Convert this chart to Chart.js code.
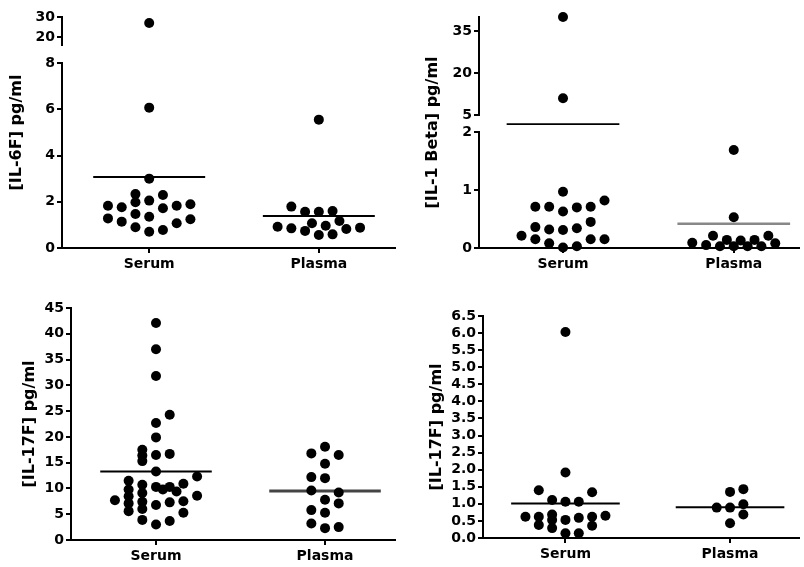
<!DOCTYPE html>
<html>
<head>
<meta charset="utf-8">
<script src="https://cdn.jsdelivr.net/npm/chart.js@4.4.1/dist/chart.umd.min.js"></script>
<style>
  body { margin: 0; background: #fff; }
  #wrap { position: relative; width: 804px; height: 567px; }
  canvas { position: absolute; }
</style>
</head>
<body>
<div id="wrap">
  <canvas id="il6" width="400" height="283" style="left:0;top:0"></canvas>
  <canvas id="il1b" width="404" height="283" style="left:400px;top:0"></canvas>
  <canvas id="il17a" width="400" height="284" style="left:0;top:283px"></canvas>
  <canvas id="il17b" width="404" height="284" style="left:400px;top:283px"></canvas>
</div>
<script>
const groups = ["Serum", "Plasma"];

// [IL-6F] pg/ml  (cols = column slot of each dot in the scatter)
const il6Serum = [27, 6.07, 3.0, 2.33, 1.98, 2.29, 2.05, 1.83, 1.76, 1.72, 1.83, 1.89, 1.28, 1.14, 1.47, 1.35, 1.24, 1.07, 0.9, 0.7, 0.78];
const il6SerumCols = [0, 0, 0, -1, -1, 1, 0, -3, -2, 1, 2, 3, -3, -2, -1, 0, 3, 2, -1, 0, 1];
const il6Plasma = [5.55, 1.79, 1.57, 1.57, 1.6, 1.17, 1.07, 0.96, 0.92, 0.85, 0.74, 0.56, 0.59, 0.82, 0.88];
const il6PlasmaCols = [0, -2, -1, 0, 1, 1.5, -0.5, 0.5, -3, -2, -1, 0, 1, 2, 3];
const il6Means = [3.07, 1.38];
const il6TicksLow = [0, 2, 4, 6, 8];
const il6TicksHigh = [20, 30];

// [IL-1 Beta] pg/ml
const il1bSerum = [40, 11, 0.97, 0.82, 0.71, 0.71, 0.7, 0.71, 0.63, 0.45, 0.36, 0.32, 0.31, 0.34, 0.21, 0.15, 0.15, 0.15, 0.08, 0.01, 0.03];
const il1bSerumCols = [0, 0, 0, 3, -2, -1, 1, 2, 0, 2, -2, -1, 0, 1, -3, -2, 3, 2, -1, 0, 1];
const il1bPlasma = [1.69, 0.53, 0.09, 0.05, 0.21, 0.03, 0.14, 0.03, 0.13, 0.03, 0.14, 0.03, 0.21, 0.08];
const il1bPlasmaCols = [0, 0, -3, -2, -1.5, -1, -0.5, 0, 0.5, 1, 1.5, 2, 2.5, 3];
const il1bMeans = [3.4, 0.42];
const il1bTicksLow = [0, 1, 2];
const il1bTicksHigh = [5, 20, 35];

// [IL-17F] pg/ml (bottom left)
const il17aSerum = [42.1, 37.0, 31.8, 22.7, 19.9, 16.5, 13.3, 10.3, 6.8, 3.0,
  24.3, 16.7, 10.3, 7.3, 3.7,
  17.5, 16.4, 15.3, 10.7, 9.1, 7.4, 6.0, 3.9,
  11.5, 9.8, 8.5, 7.1, 5.6,
  7.7, 9.8, 9.4, 10.9, 7.5, 5.3, 12.3, 8.6];
const il17aSerumCols = [0, 0, 0, 0, 0, 0, 0, 0, 0, 0,
  1, 1, 1, 1, 1,
  -1, -1, -1, -1, -1, -1, -1, -1,
  -2, -2, -2, -2, -2,
  -3, 0.5, 1.5, 2, 2, 2, 3, 3];
const il17aPlasma = [18.1, 16.8, 16.5, 14.8, 12.2, 12.0, 9.6, 9.2, 7.8, 7.1, 5.8, 5.3, 3.2, 2.3, 2.5];
const il17aPlasmaCols = [0, -1, 1, 0, -1, 0, -1, 1, 0, 1, -1, 0, -1, 0, 1];
const il17aMeans = [13.3, 9.5];
const il17aTicks = [0, 5, 10, 15, 20, 25, 30, 35, 40, 45];

// [IL-17F] pg/ml (bottom right)
const il17bSerum = [6.03, 1.92, 1.4, 1.34, 1.11, 1.06, 1.06, 0.62, 0.62, 0.38, 0.69, 0.53, 0.29, 0.53, 0.14, 0.59, 0.14, 0.62, 0.36, 0.65];
const il17bSerumCols = [0, 0, -2, 2, -1, 0, 1, -3, -2, -2, -1, -1, -1, 0, 0, 1, 1, 2, 2, 3];
const il17bPlasma = [1.35, 1.43, 0.89, 0.89, 0.99, 0.69, 0.43];
const il17bPlasmaCols = [0, 1, -1, 0, 1, 1, 0];
const il17bMeans = [1.01, 0.9];
const il17bTicks = [0, 0.5, 1, 1.5, 2, 2.5, 3, 3.5, 4, 4.5, 5, 5.5, 6, 6.5];

Chart.defaults.font.family = "'DejaVu Sans', sans-serif";
Chart.defaults.color = "#000";

const COL_STEP = 0.081; // one dot column, in x units
const MEAN_HALF = 0.33; // half length of the mean bar

const panels = [
  {
    id: "il6", title: "[IL-6F] pg/ml",
    values: [il6Serum, il6Plasma], cols: [il6SerumCols, il6PlasmaCols], means: il6Means,
    segments: [
      { min: 0, max: 8, ticks: il6TicksLow, weight: 185 },
      { min: 8, max: 16, weight: 18 },
      { min: 16, max: 30, ticks: il6TicksHigh, weight: 28 },
    ],
    xRange: [0.486, 2.449], padding: { left: 7, top: 17, right: 0, bottom: 9 }, axisWidth: 35,
    meanColor: ["#000", "#000"], meanWidth: [2, 2],
  },
  {
    id: "il1b", title: "[IL-1 Beta] pg/ml",
    values: [il1bSerum, il1bPlasma], cols: [il1bSerumCols, il1bPlasmaCols], means: il1bMeans,
    segments: [
      { min: 0, max: 2, ticks: il1bTicksLow, weight: 116 },
      { min: 2, max: 5, weight: 17 },
      { min: 5, max: 40, ticks: il1bTicksHigh, weight: 98 },
    ],
    xRange: [0.508, 2.382], padding: { left: 23, top: 17, right: 0, bottom: 9 }, axisWidth: 36,
    meanColor: ["#000", "#888"], meanWidth: [1.8, 2.5],
  },
  {
    id: "il17a", title: "[IL-17F] pg/ml",
    values: [il17aSerum, il17aPlasma], cols: [il17aSerumCols, il17aPlasmaCols], means: il17aMeans,
    segments: [{ min: 0, max: 45, ticks: il17aTicks, weight: 1 }],
    xRange: [0.497, 2.414], padding: { left: 20, top: 25, right: 0, bottom: 1 }, axisWidth: 31,
    meanColor: ["#000", "#444"], meanWidth: [2, 3],
  },
  {
    id: "il17b", title: "[IL-17F] pg/ml", decimals: 1,
    values: [il17bSerum, il17bPlasma], cols: [il17bSerumCols, il17bPlasmaCols], means: il17bMeans,
    segments: [{ min: 0, max: 6.5, ticks: il17bTicks, weight: 1 }],
    xRange: [0.499, 2.419], padding: { left: 27, top: 33, right: 0, bottom: 3 }, axisWidth: 36,
    meanColor: ["#000", "#000"], meanWidth: [2, 2],
  },
];

function segmentOf(segments, v) {
  const i = segments.findIndex((s) => v >= s.min && v <= s.max);
  return "y" + (i < 0 ? 0 : i);
}

function buildPanel(p) {
  const datasets = [];

  p.values.forEach((vals, g) => {
    p.segments.forEach((s, si) => {
      const pts = [];
      vals.forEach((v, i) => {
        if (segmentOf(p.segments, v) === "y" + si) {
          pts.push({ x: g + 1 + p.cols[g][i] * COL_STEP, y: v });
        }
      });
      if (pts.length) {
        datasets.push({
          data: pts,
          yAxisID: "y" + si,
          backgroundColor: "#000",
          borderWidth: 0,
          pointRadius: 5,
          clip: false,
          order: 0,
        });
      }
    });
  });

  p.means.forEach((m, g) => {
    datasets.push({
      data: [{ x: g + 1 - MEAN_HALF, y: m }, { x: g + 1 + MEAN_HALF, y: m }],
      yAxisID: segmentOf(p.segments, m),
      showLine: true,
      pointRadius: 0,
      borderColor: p.meanColor[g],
      borderWidth: p.meanWidth[g],
      clip: false,
      order: 1,
    });
  });

  const scales = {
    x: {
      type: "linear",
      min: p.xRange[0],
      max: p.xRange[1],
      afterBuildTicks: (sc) => { sc.ticks = [{ value: 1 }, { value: 2 }]; },
      afterFit: (sc) => { sc.height = 26; },
      ticks: {
        callback: (v) => groups[Math.round(v) - 1],
        font: { size: 14, weight: "bold" },
        padding: 3,
        maxRotation: 0,
        autoSkip: false,
      },
      grid: { drawOnChartArea: false, color: "#000", lineWidth: 2, tickLength: 5 },
      border: { color: "#000", width: 2 },
    },
  };

  p.segments.forEach((s, i) => {
    const shown = !!s.ticks;
    scales["y" + i] = {
      type: "linear",
      position: "left",
      stack: "left",
      stackWeight: s.weight,
      min: s.min,
      max: s.max,
      afterBuildTicks: (sc) => { sc.ticks = (s.ticks || []).map((v) => ({ value: v })); },
      afterFit: (sc) => { sc.width = p.axisWidth; },
      ticks: {
        display: shown,
        autoSkip: false,
        padding: 2,
        font: { size: 14, weight: "bold" },
        callback: (v) => (p.decimals ? v.toFixed(p.decimals) : v),
      },
      grid: { display: shown, drawOnChartArea: false, color: "#000", lineWidth: 2, tickLength: 5 },
      border: { display: shown, color: "#000", width: 2 },
    };
  });

  // outer axis that only carries the title, centred on the whole plot height
  scales.yt = {
    type: "linear",
    position: "left",
    weight: 1,
    afterFit: (sc) => { sc.width = 20; },
    ticks: { display: false },
    grid: { display: false, drawTicks: false },
    border: { display: false },
    title: { display: true, text: p.title, padding: 0, font: { size: 16, weight: "bold" } },
  };

  new Chart(document.getElementById(p.id), {
    type: "scatter",
    data: { datasets },
    options: {
      responsive: false,
      animation: false,
      events: [],
      layout: { padding: p.padding },
      plugins: { legend: { display: false }, tooltip: { enabled: false } },
      scales,
    },
  });
}

panels.forEach(buildPanel);
</script>
</body>
</html>
